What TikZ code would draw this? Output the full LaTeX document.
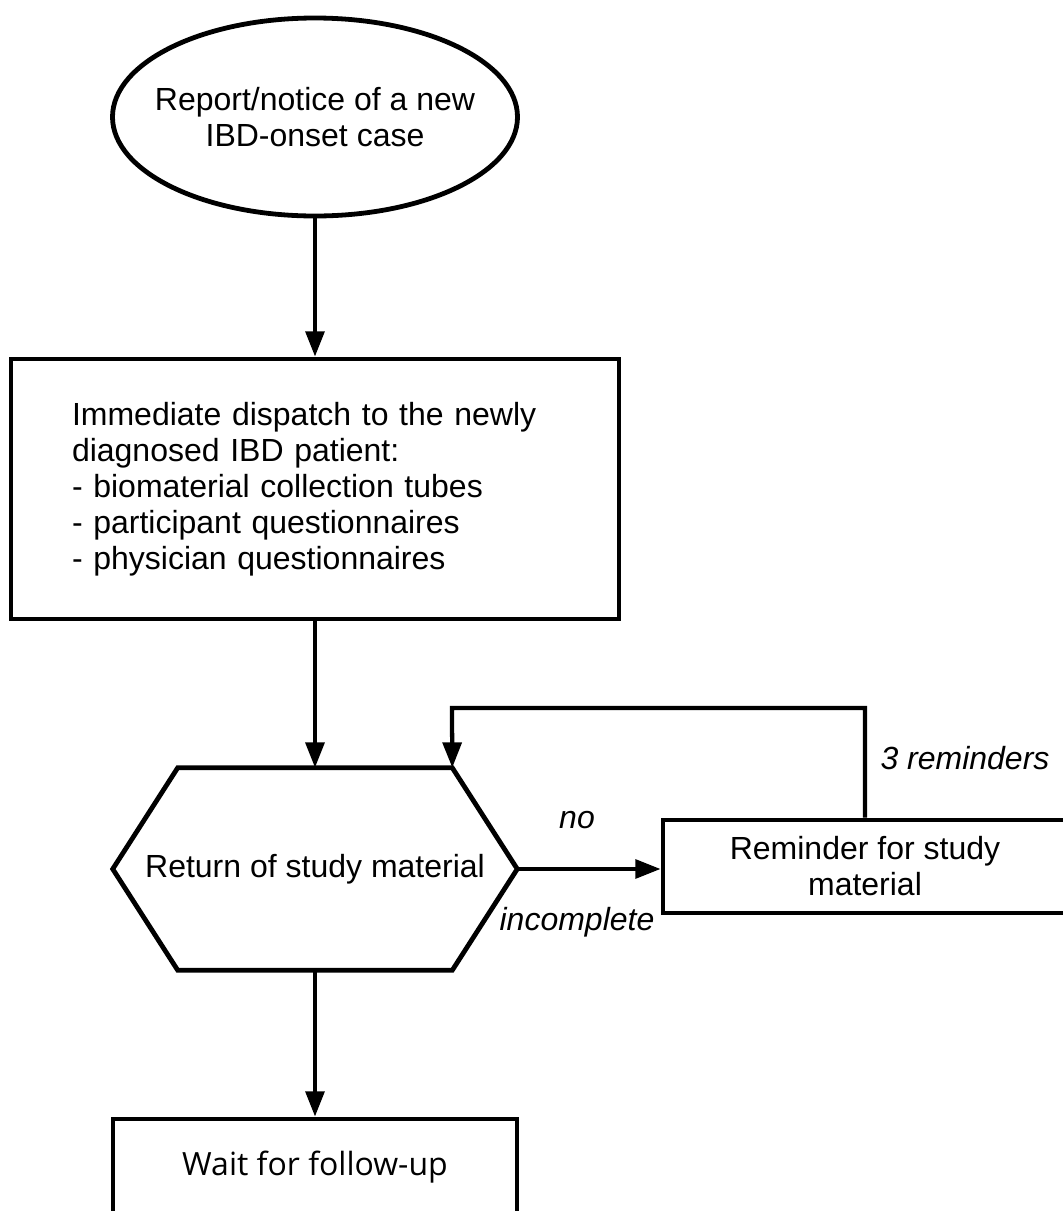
\documentclass[tikz,border=0pt]{standalone}
\usepackage{fontspec}
\setmainfont{Liberation Sans}
\newfontfamily\opensans{Open Sans}
\usetikzlibrary{positioning}
\usetikzlibrary{calc}
\usetikzlibrary{arrows.meta}
\usetikzlibrary{shapes.geometric}

\begin{document}
\begin{tikzpicture}[x=0.75pt, y=-0.75pt,
                        every node/.style={font=\fontsize{24}{27}\selectfont, inner sep=0pt},
                        box/.style={draw, line width=3.6pt, rectangle, minimum width=303pt},
                        flow/.style={draw, line width=3.2pt, -{Triangle[length=19pt, width=14pt]}},
                        note/.style={font=\fontsize{24}{27}\selectfont\itshape}]
            \useasboundingbox (0,0) rectangle (1063,1211);

            \node[draw, ellipse, line width=3.6pt, inner xsep=-13.6pt, minimum width=303.75pt,
                  minimum height=148.5pt, align=center] (report) at (315,117)
                {Report/notice of a new\\IBD-onset case};

            \node[box, minimum width=456pt, minimum height=195pt, text width=364.5pt, align=left]
                (dispatch) at (315,489) {Immediate dispatch to the newly\\diagnosed IBD patient:\\
                - biomaterial collection tubes\\- participant questionnaires\\- physician questionnaires};

            \node[minimum width=303pt, minimum height=151.5pt] (return) at (315,869) {Return of study material};
            \draw[line width=3.6pt] (return.west) -- ([xshift=48.75pt]return.north west)
                coordinate (return-nw) -- ([xshift=-48.75pt]return.north east) coordinate (return-ne)
                -- (return.east) -- ([xshift=-48.75pt]return.south east)
                -- ([xshift=48.75pt]return.south west) -- cycle;

            \node[box, minimum height=69.75pt, align=center] (reminder) at (865,866.5)
                {Reminder for study\\material};

            \node[box, minimum height=72pt, font=\fontsize{24}{27}\selectfont\opensans]
                (followup) at (315,1167) {Wait for follow-up};

            \coordinate (loop) at (452,708);

            % connectors
            \draw[flow] (report) -- (dispatch);
            \draw[flow] (dispatch) -- (return);
            \draw[flow] (return.east) -- (return.east -| reminder.west);
            \draw[flow] (reminder.north) |- (loop) -- (return-ne);
            \draw[flow] (return.south) -- (followup);

            % labels
            \node[note] (no) at (577,820) {no};
            \node[note] (incomplete) at (577,922) {incomplete};
            \node[note] (reminders) at (965,758) {3 reminders};
        \end{tikzpicture}
\end{document}
